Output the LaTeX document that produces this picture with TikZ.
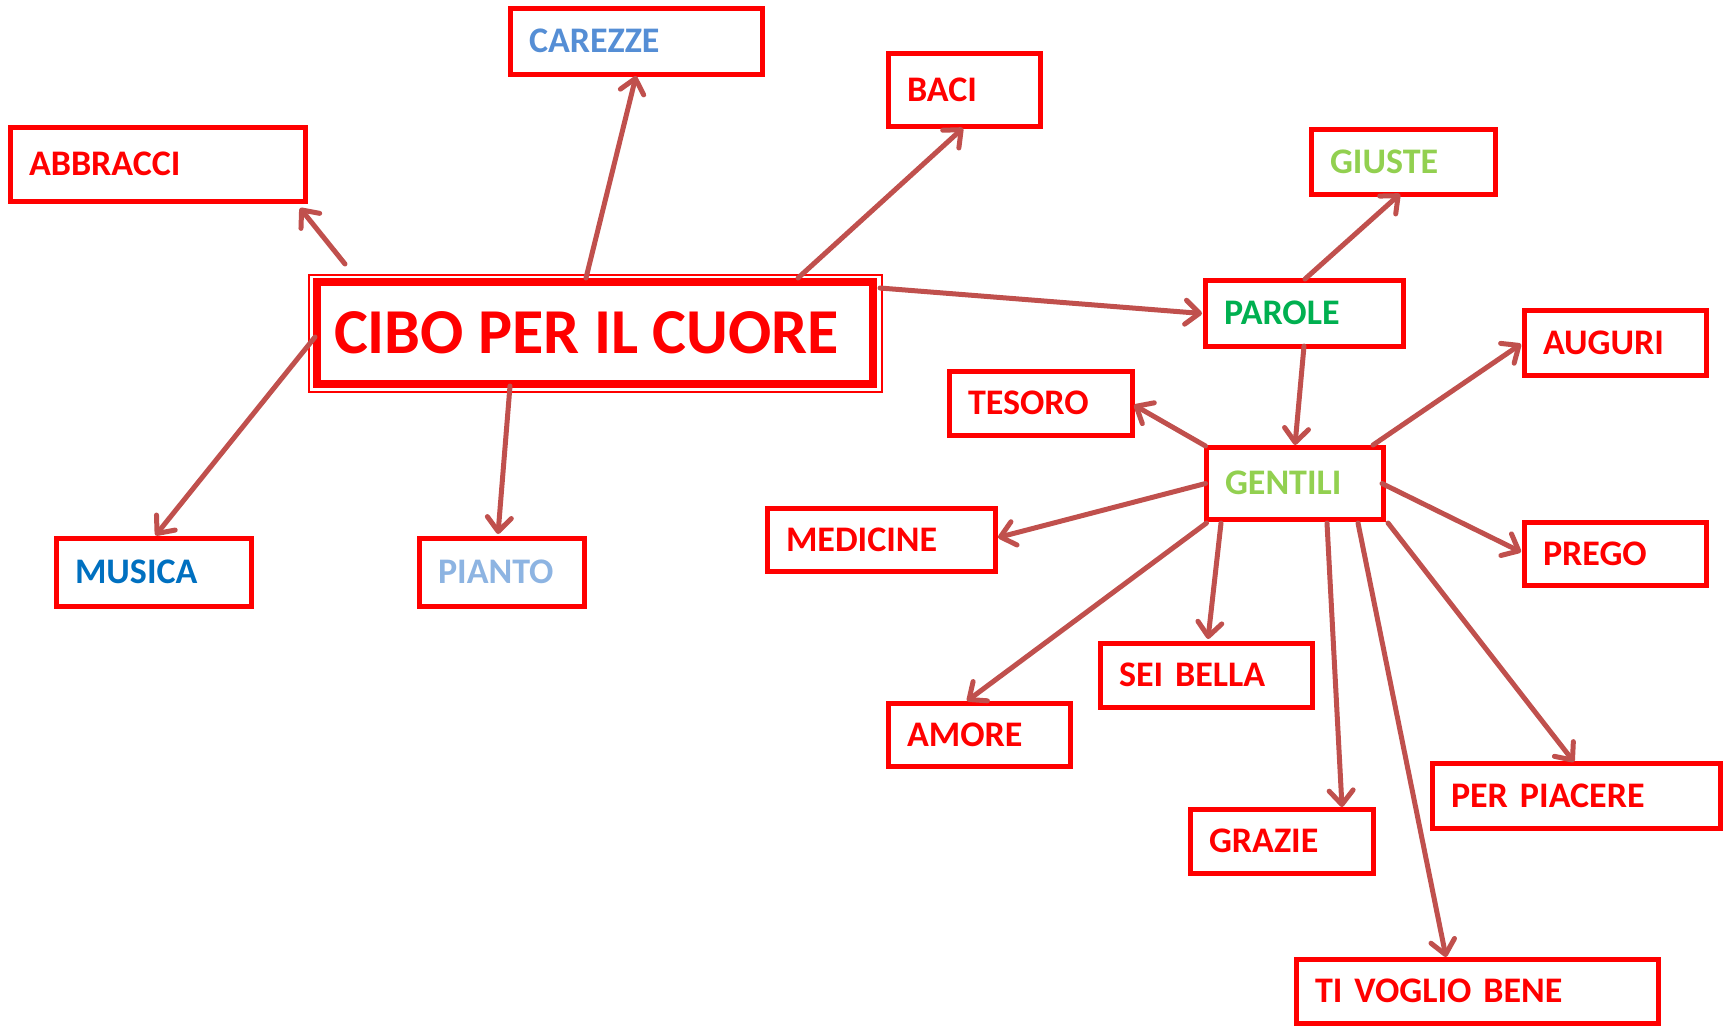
\documentclass[tikz,border=0pt]{standalone}
\usepackage{fontspec}
\setmainfont{Carlito}
\usetikzlibrary{arrows.meta}
\definecolor{boxred}{RGB}{255,0,0}
\definecolor{arrred}{RGB}{192,80,77}
\definecolor{cblue}{RGB}{85,142,213}
\definecolor{lgreen}{RGB}{146,208,80}
\definecolor{dgreen}{RGB}{0,176,80}
\definecolor{mblue}{RGB}{0,112,192}
\definecolor{pblue}{RGB}{141,180,226}
\tikzset{
  bx/.style={draw=boxred, line width=5pt, outer sep=0pt, inner xsep=19pt, inner ysep=0pt,
    align=left, text=boxred, font=\bfseries\fontsize{36}{40}\selectfont},
  arr/.style={draw=arrred, line width=5pt, line cap=round,
    -{Straight Barb[length=14pt,width=24pt,line cap=round,line join=round]}},
}
\begin{document}
\begin{tikzpicture}[x=1pt,y=1pt]
\useasboundingbox (0,0) rectangle (1731,-1026);
% main node
\node[draw=boxred, line width=2pt, minimum width=573pt, minimum height=117pt, inner sep=0pt] (ciboframe) at (595,-333.5) {};
\node[draw=boxred, line width=8pt, outer sep=0pt, minimum width=556.5pt, minimum height=102pt,
  inner xsep=17pt, inner ysep=0pt, text=boxred,
  font=\bfseries\fontsize{64}{70}\selectfont] (cibo) at (595,-333) {\makebox[522pt][l]{CIBO PER IL CUORE}};
% boxes
\node[bx, minimum width=252pt, minimum height=66pt, text width=214pt, text=cblue] (carezze) at (636,-41) {CAREZZE};
\node[bx, minimum width=152pt, minimum height=73pt, text width=114pt] (baci) at (964,-89.5) {BACI};
\node[bx, minimum width=295pt, minimum height=74pt, text width=257pt] (abbracci) at (157.5,-164) {ABBRACCI};
\node[bx, minimum width=184pt, minimum height=65pt, text width=146pt, text=lgreen] (giuste) at (1403,-161.5) {GIUSTE};
\node[bx, minimum width=198pt, minimum height=66pt, text width=160pt, text=dgreen] (parole) at (1304,-313) {PAROLE};
\node[bx, minimum width=182pt, minimum height=65pt, text width=144pt] (auguri) at (1615,-342.5) {AUGURI};
\node[bx, minimum width=183pt, minimum height=64pt, text width=145pt] (tesoro) at (1040.5,-403) {TESORO};
\node[bx, minimum width=177pt, minimum height=72pt, text width=139pt, text=lgreen] (gentili) at (1294.5,-483) {GENTILI};
\node[bx, minimum width=228pt, minimum height=63pt, text width=190pt] (medicine) at (881,-539.5) {MEDICINE};
\node[bx, minimum width=182pt, minimum height=63pt, text width=144pt] (prego) at (1615,-553.5) {PREGO};
\node[bx, minimum width=195pt, minimum height=68pt, text width=157pt, text=mblue] (musica) at (153.5,-572) {MUSICA};
\node[bx, minimum width=165pt, minimum height=68pt, text width=127pt, text=pblue] (pianto) at (501.5,-572) {PIANTO};
\node[bx, minimum width=212pt, minimum height=64pt, text width=174pt] (seibella) at (1206,-675) {SEI BELLA};
\node[bx, minimum width=182pt, minimum height=63pt, text width=144pt] (amore) at (979,-734.5) {AMORE};
\node[bx, minimum width=288pt, minimum height=65pt, text width=250pt] (perpiacere) at (1576,-795.5) {PER PIACERE};
\node[bx, minimum width=183pt, minimum height=64pt, text width=145pt] (grazie) at (1281.5,-841) {GRAZIE};
\node[bx, minimum width=362pt, minimum height=64pt, text width=324pt] (tvb) at (1477,-991) {TI VOGLIO BENE};
% connectors
\draw[arr] ([shift={(-250,69)}]cibo.center) -- ([shift={(142.5,-44)}]abbracci.center);
\draw[arr] ([shift={(-9,55)}]cibo.center) -- ([shift={(0,-35)}]carezze.center);
\draw[arr] ([shift={(203,55)}]cibo.center) -- ([shift={(-1,-38.5)}]baci.center);
\draw[arr] ([shift={(285,45)}]cibo.center) -- ([shift={(-102,-0.5)}]parole.center);
\draw[arr] ([shift={(-280,-4)}]cibo.center) -- ([shift={(2,36.6)}]musica.center);
\draw[arr] ([shift={(-85,-53)}]cibo.center) -- ([shift={(-3.5,38)}]pianto.center);
\draw[arr] ([shift={(1,34)}]parole.center) -- ([shift={(-3,-32.5)}]giuste.center);
\draw[arr] ([shift={(0,-33)}]parole.center) -- ([shift={(0.5,38)}]gentili.center);
\draw[arr] ([shift={(78.5,38)}]gentili.center) -- ([shift={(-94,-1.5)}]auguri.center);
\draw[arr] ([shift={(-89,37)}]gentili.center) -- ([shift={(93.5,-2)}]tesoro.center);
\draw[arr] ([shift={(-89,-0.5)}]gentili.center) -- ([shift={(117,2)}]medicine.center);
\draw[arr] ([shift={(87.5,-0.5)}]gentili.center) -- ([shift={(-94,1.5)}]prego.center);
\draw[arr] ([shift={(-88,-40)}]gentili.center) -- ([shift={(-12,33.5)}]amore.center);
\draw[arr] ([shift={(-73.5,-40)}]gentili.center) -- ([shift={(2,36)}]seibella.center);
\draw[arr] ([shift={(32.5,-40)}]gentili.center) -- ([shift={(60.5,34)}]grazie.center);
\draw[arr] ([shift={(63.5,-40)}]gentili.center) -- ([shift={(-31,34)}]tvb.center);
\draw[arr] ([shift={(93.5,-40)}]gentili.center) -- ([shift={(-2,33.5)}]perpiacere.center);
\end{tikzpicture}
\end{document}
